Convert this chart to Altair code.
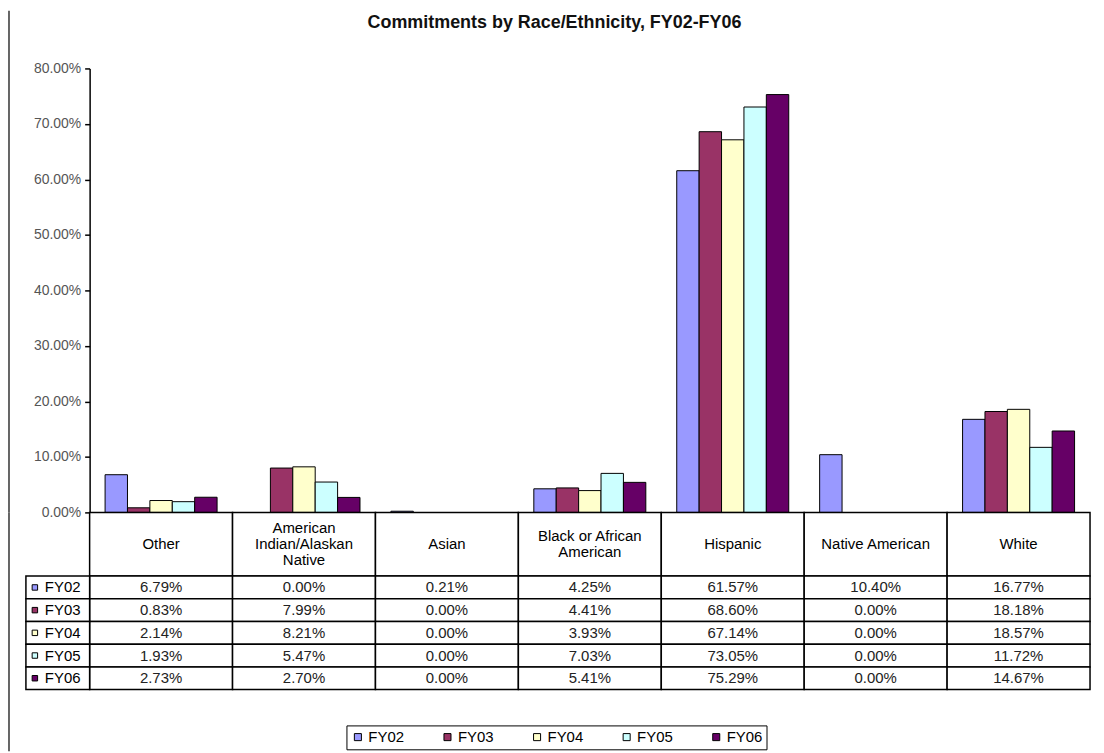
import altair as alt
import pandas as pd

categories = ["Other", "American Indian/Alaskan Native", "Asian",
              "Black or African American", "Hispanic", "Native American", "White"]
header_lines = [["Other"], ["American", "Indian/Alaskan", "Native"], ["Asian"],
                ["Black or African", "American"], ["Hispanic"], ["Native American"], ["White"]]
years = ["FY02", "FY03", "FY04", "FY05", "FY06"]
fy02 = [6.79, 0.00, 0.21, 4.25, 61.57, 10.40, 16.77]
fy03 = [0.83, 7.99, 0.00, 4.41, 68.60, 0.00, 18.18]
fy04 = [2.14, 8.21, 0.00, 3.93, 67.14, 0.00, 18.57]
fy05 = [1.93, 5.47, 0.00, 7.03, 73.05, 0.00, 11.72]
fy06 = [2.73, 2.70, 0.00, 5.41, 75.29, 0.00, 14.67]
colors = ["#9999FF", "#993366", "#FFFFCC", "#CCFFFF", "#660066"]
y_ticks = [0, 0.1, 0.2, 0.3, 0.4, 0.5, 0.6, 0.7, 0.8]

records = []
for yr, vals in zip(years, [fy02, fy03, fy04, fy05, fy06]):
    for i, (cat, v) in enumerate(zip(categories, vals)):
        records.append({"category": cat, "col": i, "year": yr, "value": v / 100})
df = pd.DataFrame(records)

hrec = []
for cat, lines in zip(categories, header_lines):
    n = len(lines)
    for k, line in enumerate(lines):
        hrec.append({"category": cat, "line": line, "pos": (n - 1) / 2 - k})
hdf = pd.DataFrame(hrec)
cdf = pd.DataFrame({"category": categories})
ldf = pd.DataFrame({"year": years})

FONT = "Liberation Sans"
PLOT_W = 1005
BAR_H = 446
HEAD_H = 64
ROWS_H = 114
NCOL = len(categories)
COL_PX = PLOT_W / NCOL
LABEL_COL = 64 / COL_PX        # width of row-label column in column units
SQ_POS = 9 / COL_PX            # key square offset from label column edge
TXT_POS = 19 / COL_PX          # key text offset from label column edge
FRAME = "#333333"

color = alt.Color(
    "year:N",
    scale=alt.Scale(domain=years, range=colors),
    legend=alt.Legend(
        title=None, orient="none", direction="horizontal", columns=5,
        legendX=258, legendY=660,
        symbolType="square", symbolSize=50, symbolStrokeColor="black",
        symbolStrokeWidth=1, labelFont=FONT, labelFontSize=15, labelColor="black",
        labelOffset=3, columnPadding=36, padding=4,
        strokeColor="black", fillColor="white",
    ),
)

band_x = alt.Scale(paddingInner=0, paddingOuter=0)

bar_marks = alt.Chart(df).transform_filter("datum.value > 0").mark_bar(
    stroke="black", strokeWidth=1
).encode(
    x=alt.X("category:N", sort=categories, scale=band_x, axis=None),
    xOffset=alt.XOffset("year:N", sort=years,
                        scale=alt.Scale(paddingInner=0, paddingOuter=0.69)),
    y=alt.Y("value:Q", scale=alt.Scale(domain=[0, 0.8], nice=False),
            axis=alt.Axis(format=".2%", values=y_ticks, title=None, grid=False,
                          domainColor="black", domainWidth=1.5, tickColor="black",
                          tickSize=5, tickWidth=1.5, labelFont=FONT, labelFontSize=14,
                          labelColor="#555555", labelPadding=4)),
    color=color,
)
frame_top = alt.Chart(cdf.head(1)).mark_rule(color=FRAME, strokeWidth=1.5).encode(
    x=alt.value(-81), y=alt.value(-58), y2=alt.value(BAR_H)
)
bars = alt.layer(bar_marks, frame_top).properties(width=PLOT_W, height=BAR_H)

hbase = alt.Chart(cdf).encode(
    x=alt.X("category:N", sort=categories, scale=band_x, axis=None)
)
header_text = alt.Chart(hdf).mark_text(font=FONT, fontSize=15, color="black").encode(
    x=alt.X("category:N", sort=categories, scale=band_x, axis=None),
    y=alt.Y("pos:Q", scale=alt.Scale(domain=[-2, 2], nice=False, zero=False), axis=None),
    text="line:N",
)
frame_mid = alt.Chart(cdf.head(1)).mark_rule(color=FRAME, strokeWidth=1.5).encode(
    x=alt.value(-81), y=alt.value(0), y2=alt.value(HEAD_H)
)
header = alt.layer(
    hbase.mark_rect(fill="white", stroke="black", strokeWidth=1.5),
    header_text, frame_mid,
).properties(width=PLOT_W, height=HEAD_H)

xq = alt.Scale(domain=[0, NCOL], nice=False, zero=False)
yb = alt.Scale(paddingInner=0, paddingOuter=0)
rbase = alt.Chart(df).transform_calculate(
    c0="datum.col", c1="datum.col + 1", cm="datum.col + 0.5"
)
cells = rbase.mark_rect(fill="white", stroke="black", strokeWidth=1.5).encode(
    x=alt.X("c0:Q", scale=xq, axis=None), x2="c1:Q",
    y=alt.Y("year:N", sort=years, scale=yb, axis=None),
)
cell_text = rbase.mark_text(font=FONT, fontSize=15, color="#222222").encode(
    x=alt.X("cm:Q", scale=xq, axis=None),
    y=alt.Y("year:N", sort=years, scale=yb, axis=None),
    text=alt.Text("value:Q", format=".2%"),
)
lbase = alt.Chart(ldf).transform_calculate(
    l0=f"{-LABEL_COL}", l1="0", sq=f"{-LABEL_COL + SQ_POS}", tx=f"{-LABEL_COL + TXT_POS}"
)
label_box = lbase.mark_rect(fill="white", stroke="black", strokeWidth=1.5).encode(
    x=alt.X("l0:Q", scale=xq, axis=None), x2="l1:Q",
    y=alt.Y("year:N", sort=years, scale=yb, axis=None),
)
label_sq = lbase.mark_point(shape="square", filled=True, size=30, stroke="black",
                            strokeWidth=1, opacity=1).encode(
    x=alt.X("sq:Q", scale=xq, axis=None),
    y=alt.Y("year:N", sort=years, scale=yb, axis=None),
    color=color,
)
label_txt = lbase.mark_text(font=FONT, fontSize=15, align="left", color="black").encode(
    x=alt.X("tx:Q", scale=xq, axis=None),
    y=alt.Y("year:N", sort=years, scale=yb, axis=None),
    text="year:N",
)
frame_bot = alt.Chart(cdf.head(1)).mark_rule(color=FRAME, strokeWidth=1.5).encode(
    x=alt.value(-81), y=alt.value(0), y2=alt.value(ROWS_H + 62)
)
rows = alt.layer(cells, cell_text, label_box, label_sq, label_txt, frame_bot).properties(
    width=PLOT_W, height=ROWS_H
)

chart = alt.vconcat(bars, header, rows, spacing=0, bounds="flush").properties(
    title=alt.TitleParams("Commitments by Race/Ethnicity, FY02-FY06", font=FONT,
                          fontSize=18, fontWeight="bold", color="#111111",
                          anchor="middle", dx=5, offset=-22),
    padding={"left": 0, "top": 0, "right": 5, "bottom": 0},
    background="white",
).configure_view(stroke=None).configure_concat(spacing=0)

chart.save("out.html", embed_options={"renderer": "svg", "actions": False})
